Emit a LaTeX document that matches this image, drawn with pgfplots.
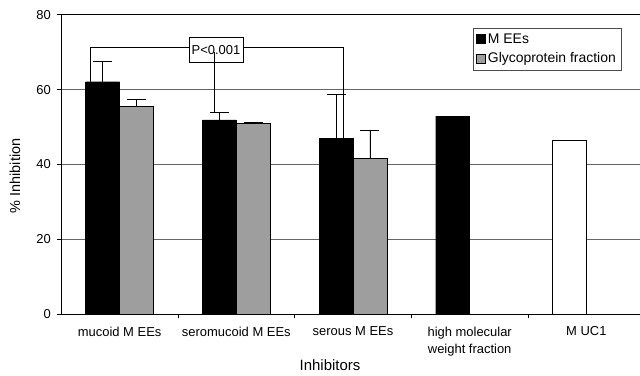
\documentclass[border=0pt]{standalone}
\usepackage{pgfplots}
\pgfplotsset{compat=1.18}
\usepackage{fontspec}
\setmainfont{Liberation Sans}
\definecolor{glyco}{RGB}{158,158,158}
\begin{document}
\begin{tikzpicture}
\begin{axis}[
  at={(0,0)}, anchor=south west,
  scale only axis, width=583.4bp, height=299.6bp,
  xmin=-0.5, xmax=4.5, ymin=0, ymax=80,
  ybar, bar width=0.291,
  axis line style={black, line width=0.9pt},
  tick align=outside, tick pos=left,
  major tick length=4bp,
  tick style={black, line width=0.6pt},
  /pgf/number format/assume math mode=true,
  ytick={0,20,40,60,80},
  ymajorgrids, grid style={black!60, line width=0.5pt},
  xtick={0.5,1.5,2.5,3.5}, xticklabels={},
  extra x ticks={0,1,2,3,4},
  extra x tick labels={mucoid M EEs, seromucoid M EEs, serous M EEs, {high molecular\\weight fraction}, M UC1},
  extra x tick style={major tick length=0pt, grid=none,
     tick label style={align=center, font=\fontsize{13}{17}\selectfont, yshift=-9bp}},
  yticklabel style={font=\fontsize{13}{15}\selectfont, xshift=-3bp},
  xlabel={Inhibitors}, ylabel={\% Inhibition},
  xlabel style={at={(axis description cs:0.4606,-0.169)}, anchor=center, font=\fontsize{15}{17}\selectfont},
  ylabel style={at={(axis description cs:-0.0794,0.462)}, anchor=center, font=\fontsize{14.5}{17}\selectfont},
  legend style={at={(0.706,0.956)}, anchor=north west, draw=black!70, line width=0.5pt,
     font=\fontsize{14}{16}\selectfont, row sep=4bp, inner xsep=3bp, inner ysep=3.5bp,
     legend cell align=left},
]
% MEEs
\addplot[fill=black, draw=black, bar shift=-0.1455, forget plot,
  error bars/.cd, y dir=plus, y explicit, error mark=-,
  error mark options={black, rotate=90, mark size=9.5bp, line width=0.8pt},
  error bar style={black, line width=0.8pt}]
  coordinates {(0,62.1) +- (0,5.5) (1,51.9) +- (0,2.1) (2,47.0) +- (0,11.6) (3,52.9) +- (0,0)};
% Glycoprotein fraction
\addplot[fill=glyco, draw=black, bar shift=0.1455, forget plot,
  error bars/.cd, y dir=plus, y explicit, error mark=-,
  error mark options={black, rotate=90, mark size=9.5bp, line width=0.8pt},
  error bar style={black, line width=0.8pt}]
  coordinates {(0,55.6) +- (0,1.8) (1,51.0) +- (0,0.3) (2,41.6) +- (0,7.6)};
% MUC1
\addplot[fill=white, draw=black, line width=1pt, bar shift=-0.1455, forget plot]
  coordinates {(4,46.5)};
\addlegendimage{legend image code/.code={\fill[black] (0bp,-4.5bp) rectangle (9bp,4.5bp);}}
\addlegendentry{M EEs}
\addlegendimage{legend image code/.code={\filldraw[fill=glyco,draw=black] (0bp,-4.5bp) rectangle (9bp,4.5bp);}}
\addlegendentry{Glycoprotein fraction}
\draw[black, line width=0.8pt] (axis cs:-0.25,62.1) -- (axis cs:-0.25,71.2) -- (axis cs:1.92,71.2) -- (axis cs:1.92,47.0);
\node[draw=black, line width=0.8pt, fill=white, minimum height=25bp, minimum width=54bp, inner sep=2bp,
  font=\fontsize{13}{15}\selectfont] at (axis cs:0.826,70.6) {P<0.001};
\draw[black, line width=0.8pt] (axis cs:0.809,70.0) -- (axis cs:0.809,54.0);
\end{axis}
\pgfresetboundingbox
\path[use as bounding box] (-61.3bp,-61.7bp) rectangle (578.7bp,314.3bp);
\end{tikzpicture}
\end{document}
